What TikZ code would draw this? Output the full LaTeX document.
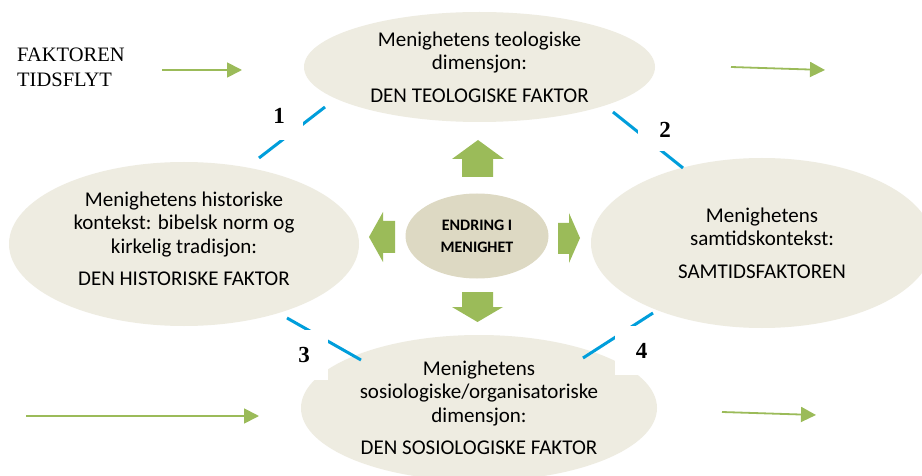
\documentclass[tikz,border=0pt]{standalone}
\usepackage{fontspec}
\setmainfont{Carlito}
\newfontfamily\seriffont{Liberation Serif}
\usetikzlibrary{shapes.geometric,arrows.meta}
\definecolor{beige}{HTML}{EEECE1}
\definecolor{beigedark}{HTML}{DDD9C3}
\definecolor{olive}{HTML}{9BBB59}
\definecolor{skyblue}{HTML}{009EDB}
\begin{document}
\begin{tikzpicture}[x=1pt,y=-1pt,
  bigell/.style={ellipse, fill=beige, inner sep=0pt, align=center,
    font=\fontsize{21}{23.5}\selectfont},
  elltext/.style={inner sep=0pt, align=center, font=\fontsize{21}{23.5}\selectfont},
  centerell/.style={ellipse, fill=beigedark, inner sep=0pt, align=center,
    font=\bfseries\fontsize{16}{22}\selectfont},
  flowarrow/.style={draw=olive, line width=1.8pt, -{Triangle[length=15pt,width=15pt]}},
  bluelink/.style={draw=skyblue, line width=3pt},
  numlabel/.style={fill=white, inner sep=0pt, text=black,
    font=\seriffont\bfseries\fontsize{23}{23}\selectfont},
  blockarrow/.style={fill=olive},
  sidetext/.style={inner sep=0pt, align=left, anchor=west,
    font=\seriffont\fontsize{20.5}{25}\selectfont}]
\clip (0,0) rectangle (922,476);
\fill[white] (0,0) rectangle (922,476);

% big ellipses
\node[bigell, minimum width=351pt, minimum height=110pt] (teo) at (479.5,67)
  {Menighetens teologiske\\ dimensjon:\\[9pt] DEN TEOLOGISKE FAKTOR};
\node[bigell, minimum width=350pt, minimum height=164pt] (hist) at (184,244) {};
\node[elltext] (histtext) at (184,239)
  {Menighetens historiske\\ kontekst: bibelsk norm og\\ kirkelig tradisjon:\\[9pt] DEN HISTORISKE FAKTOR};
\node[bigell, minimum width=342pt, minimum height=170pt] (samtid) at (762,243)
  {Menighetens\\ samtidskontekst:\\[9pt] SAMTIDSFAKTOREN};
\node[bigell, minimum width=356pt, minimum height=146pt] (sos) at (479,408)
  {Menighetens\\ sosiologiske/organisatoriske\\ dimensjon:\\[9pt] DEN SOSIOLOGISKE FAKTOR};

% centre
\node[centerell, minimum width=143pt, minimum height=85pt] (endring) at (477,236)
  {ENDRING I\\ MENIGHET};

% block arrows
\fill[blockarrow] (478,140) -- (504,159) -- (493,159) -- (493,177) -- (462,177) -- (462,159) -- (452,159) -- cycle;
\fill[blockarrow] (462,292) -- (493,292) -- (493,307) -- (503,307) -- (477.5,322) -- (452,307) -- (462,307) -- cycle;
\fill[blockarrow] (369,237) -- (383,212) -- (383,221) -- (395,221) -- (395,253) -- (383,253) -- (383,262) -- cycle;
\fill[blockarrow] (558,223) -- (569,223) -- (569,213) -- (580,238) -- (569,263) -- (569,254) -- (558,254) -- cycle;

% time-flow text and arrows
\node[sidetext] (tidsflyt) at (17,67.5) {FAKTOREN\\ TIDSFLYT};
\coordinate (tl1) at (162,70);  \coordinate (tl2) at (242,70);
\coordinate (tr1) at (731,67);  \coordinate (tr2) at (825,70);
\coordinate (bl1) at (26,416);  \coordinate (bl2) at (259,416);
\coordinate (br1) at (722,412); \coordinate (br2) at (816,415);
\draw[flowarrow] (tl1) -- (tl2);
\draw[flowarrow] (tr1) -- (tr2);
\draw[flowarrow] (bl1) -- (bl2);
\draw[flowarrow] (br1) -- (br2);

% blue links
\coordinate (l1a) at (325,107); \coordinate (l1b) at (259,158);
\coordinate (l2a) at (613,112); \coordinate (l2b) at (683,168);
\coordinate (l3a) at (287,318); \coordinate (l3b) at (361,360);
\coordinate (l4a) at (653,313); \coordinate (l4b) at (583,358);
\draw[bluelink] (l1a) -- (l1b);
\draw[bluelink] (l2a) -- (l2b);
\draw[bluelink] (l3a) -- (l3b);
\draw[bluelink] (l4a) -- (l4b);

% number labels (white boxes interrupt the links)
\node[numlabel, minimum width=48pt, minimum height=48pt] (n1) at (279,116) {1};
\node[numlabel, minimum width=54pt, minimum height=42pt] (n2) at (665,130) {2};
\node[numlabel, minimum width=48pt, minimum height=50pt] (n3) at (304,355) {3};
\node[numlabel, minimum width=53pt, minimum height=49pt] (n4) at (641.5,350.5) {4};
\end{tikzpicture}
\end{document}
